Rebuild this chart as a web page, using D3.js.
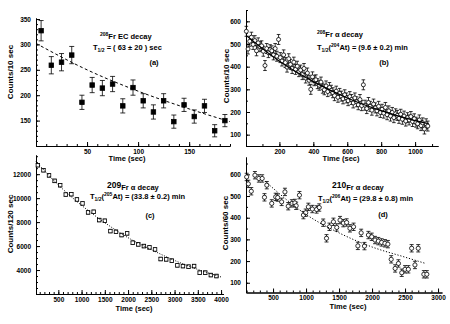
<!DOCTYPE html>
<html>
<head>
<meta charset="utf-8">
<script src="https://cdn.jsdelivr.net/npm/d3@7"></script>
<style>
  body { margin: 0; background: #fff; }
  svg { display: block; font-family: "Liberation Sans", Arial, sans-serif; font-weight: bold; }
</style>
</head>
<body>
<svg id="chart" width="450" height="324"></svg>
<script>
// (a) 208Fr EC decay, counts per 10 s
const aTime = [5, 15, 25, 35, 45, 55, 65, 75, 85, 95, 105, 115, 125, 135, 145, 155, 165, 175, 185];
const aCounts = [327, 259, 265, 279, 186, 220, 214, 222, 179, 215, 189, 167, 189, 148, 181, 158, 179, 130, 150];
const aErr = [20, 17, 17, 17, 14, 15, 15, 15, 14, 15, 14, 14, 14, 13, 13, 13, 13, 12, 12];
const aFitTime = [0, 50, 100, 150, 190];
const aFitCounts = [302, 250, 208, 173, 148];

// (b) 208Fr alpha decay, counts per 10 s
const bTime = [5, 15, 25, 35, 45, 55, 65, 75, 85, 95, 105, 115, 125, 135, 145, 155, 165, 175, 185, 195,
  205, 215, 225, 235, 245, 255, 265, 275, 285, 295, 305, 315, 325, 335, 345, 355, 365, 375, 385, 395,
  405, 415, 425, 435, 445, 455, 465, 475, 485, 495, 505, 515, 525, 535, 545, 555, 565, 575, 585, 595,
  605, 615, 625, 635, 645, 655, 665, 675, 685, 695, 705, 715, 725, 735, 745, 755, 765, 775, 785, 795,
  805, 815, 825, 835, 845, 855, 865, 875, 885, 895, 905, 915, 925, 935, 945, 955, 965, 975, 985, 995,
  1005, 1015, 1025, 1035, 1045, 1055, 1065, 1075];
const bCounts = [556, 478, 512, 530, 498, 515, 470, 505, 488, 492,
  468, 405, 480, 462, 475, 470, 452, 480, 446, 520,
  440, 425, 452, 418, 398, 435, 410, 392, 420, 388,
  402, 378, 385, 365, 392, 350, 372, 340, 300, 355,
  338, 342, 325, 318, 332, 305, 298, 315, 290, 308,
  296, 285, 272, 292, 265, 282, 270, 258, 276, 262,
  250, 268, 255, 240, 262, 245, 232, 255, 228, 320,
  230, 215, 242, 225, 208, 235, 218, 205, 225, 198,
  212, 195, 220, 188, 205, 182, 198, 175, 192, 185,
  172, 190, 168, 182, 160, 175, 165, 180, 158, 170,
  155, 148, 165, 140, 152, 125, 148, 138];
const bErr = 22;
const bFitTime = [5, 200, 400, 600, 800, 1000, 1080];
const bFitCounts = [537, 424, 334, 262, 206, 162, 148];

// (c) 209Fr alpha decay, counts per 120 s
const cTime = [60, 180, 300, 420, 540, 660, 780, 900, 1020, 1140, 1260, 1380, 1500, 1620, 1740, 1860, 1980,
  2100, 2220, 2340, 2460, 2580, 2700, 2820, 2940, 3060, 3180, 3300, 3420, 3540, 3660, 3780, 3900];
const cCounts = [12750, 12330, 11900, 11440, 11080, 10300, 10330, 9890, 9560, 8810, 8860, 8170, 8110, 7250, 7190,
  6920, 7060, 6280, 6140, 6000, 5890, 5720, 4920, 4890, 4780, 4390, 4330, 4280, 4330, 3780, 3780, 3580, 3500];
const cErr = 140;
const cFitTime = [20, 500, 1000, 1500, 2000, 2500, 3000, 3500, 4000];
const cFitCounts = [13050, 11100, 9400, 7950, 6700, 5700, 4800, 4050, 3420];

// (d) 210Fr alpha decay, counts per 60 s
const dTime = [100, 125, 170, 225, 285, 335, 370, 405, 480, 540, 570, 630, 680, 730, 785, 830, 850, 900, 960, 995,
  1035, 1095, 1160, 1200, 1260, 1310, 1355, 1415, 1465, 1515, 1565, 1615, 1665, 1720, 1785, 1835, 1885, 1945, 1995, 2045,
  2095, 2145, 2195, 2240, 2290, 2350, 2400, 2450, 2500, 2550, 2600, 2650, 2700, 2785, 2830];
const dCounts = [588, 556, 522, 596, 581, 581, 494, 550, 466, 496, 493, 473, 519, 453, 466, 468, 455, 504, 412, 423,
  450, 440, 438, 447, 377, 305, 358, 381, 355, 389, 375, 378, 351, 358, 270, 330, 269, 320, 312, 297,
  292, 286, 282, 278, 208, 166, 189, 146, 162, 162, 259, 182, 259, 139, 139];
const dErr = 17;
const dFitTime = [380, 1000, 1500, 2000, 2500, 2800];
const dFitCounts = [568, 415, 330, 265, 218, 190];

const svg = d3.select("#chart");
const FONT = "Liberation Sans, Arial, sans-serif";

function styleAxis(sel) {
  sel.attr("font-family", FONT).attr("font-size", 6.5).attr("font-weight", "bold");
  sel.selectAll("path, line").attr("stroke", "#000").attr("stroke-width", 1);
}

function drawPanel(p) {
  const x = d3.scaleLinear().domain(p.xDomain).range(p.xRange);
  const y = d3.scaleLinear().domain(p.yDomain).range(p.yRange);
  const g = svg.append("g");
  const bottom = p.yRange[0];
  const left = p.xRange[0];

  // axes: inward ticks, minor + major
  g.append("g").attr("transform", `translate(0,${bottom})`)
    .call(d3.axisBottom(x).tickValues(p.xMinor).tickSize(-2).tickSizeOuter(0).tickFormat(""))
    .call(styleAxis);
  g.append("g").attr("transform", `translate(0,${bottom})`)
    .call(d3.axisBottom(x).tickValues(p.xMajor).tickSize(-4).tickSizeOuter(0).tickPadding(3).tickFormat(d3.format("d")))
    .call(styleAxis);
  g.append("g").attr("transform", `translate(${left},0)`)
    .call(d3.axisLeft(y).tickValues(p.yMinor).tickSize(-2).tickSizeOuter(0).tickFormat(""))
    .call(styleAxis);
  g.append("g").attr("transform", `translate(${left},0)`)
    .call(d3.axisLeft(y).tickValues(p.yMajor).tickSize(-4).tickSizeOuter(0).tickPadding(5).tickFormat(d3.format("d")))
    .call(styleAxis);

  const pts = p.time.map((t, i) => ({ t: t, c: p.counts[i], e: Array.isArray(p.err) ? p.err[i] : p.err }));

  // error bars
  const eb = g.append("g").attr("stroke", "#000").attr("stroke-width", 0.8);
  pts.forEach(d => {
    const x0 = x(d.t), y1 = y(d.c - d.e), y2 = y(d.c + d.e);
    eb.append("line").attr("x1", x0).attr("x2", x0).attr("y1", y1).attr("y2", y2);
    eb.append("line").attr("x1", x0 - p.cap).attr("x2", x0 + p.cap).attr("y1", y1).attr("y2", y1);
    eb.append("line").attr("x1", x0 - p.cap).attr("x2", x0 + p.cap).attr("y1", y2).attr("y2", y2);
  });

  // markers
  const s = p.markerSize;
  if (p.marker === "circle") {
    g.append("g").selectAll("circle").data(pts).join("circle")
      .attr("cx", d => x(d.t)).attr("cy", d => y(d.c)).attr("r", s / 2)
      .attr("fill", "#fff").attr("stroke", "#000").attr("stroke-width", 0.8);
  } else {
    g.append("g").selectAll("rect").data(pts).join("rect")
      .attr("x", d => x(d.t) - s / 2).attr("y", d => y(d.c) - s / 2)
      .attr("width", s).attr("height", s)
      .attr("fill", p.marker === "filledSquare" ? "#000" : "#fff")
      .attr("stroke", "#000").attr("stroke-width", 0.8);
  }

  // fit curve
  const line = d3.line().x(d => x(d[0])).y(d => y(d[1])).curve(d3.curveMonotoneX);
  g.append("path")
    .attr("d", line(p.fitT.map((t, i) => [t, p.fitC[i]])))
    .attr("fill", "none").attr("stroke", "#000")
    .attr("stroke-width", p.fitWidth)
    .attr("stroke-dasharray", p.fitDash);

  // axis titles
  g.append("text")
    .attr("transform", `translate(${p.yLabelX},${p.yLabelY}) rotate(-90)`)
    .attr("text-anchor", "middle").attr("font-size", 8).text(p.yLabel);
  g.append("text")
    .attr("x", p.xLabelX).attr("y", p.xLabelY)
    .attr("text-anchor", "middle").attr("font-size", 7.5).text("Time (sec)");
}

function rich(x, y, parts, anchor) {
  const t = svg.append("text").attr("x", x).attr("y", y)
    .attr("text-anchor", anchor || "start");
  parts.forEach(([s, fs, dy]) => t.append("tspan").attr("font-size", fs).attr("dy", dy || 0).text(s));
}

drawPanel({
  time: aTime, counts: aCounts, err: aErr, fitT: aFitTime, fitC: aFitCounts,
  xDomain: [0, 190], xRange: [36, 230], yDomain: [100, 352], yRange: [146, 18],
  xMajor: [50, 100, 150], xMinor: d3.range(10, 191, 10),
  yMajor: [150, 200, 250, 300, 350], yMinor: d3.range(100, 351, 10),
  marker: "filledSquare", markerSize: 4.5, cap: 2.5, fitDash: "3,2.5", fitWidth: 1,
  yLabel: "Counts/10 sec", yLabelX: 13, yLabelY: 72, xLabelX: 127, xLabelY: 161
});

drawPanel({
  time: bTime, counts: bCounts, err: bErr, fitT: bFitTime, fitC: bFitCounts,
  xDomain: [3, 1135], xRange: [246, 438], yDomain: [50, 650], yRange: [146, 10],
  xMajor: [200, 400, 600, 800, 1000], xMinor: d3.range(100, 1101, 100),
  yMajor: [100, 200, 300, 400, 500, 600], yMinor: d3.range(50, 651, 50),
  marker: "circle", markerSize: 4, cap: 1.8, fitDash: null, fitWidth: 1.2,
  yLabel: "Counts/10 sec", yLabelX: 229, yLabelY: 76, xLabelX: 341, xLabelY: 161
});

drawPanel({
  time: cTime, counts: cCounts, err: cErr, fitT: cFitTime, fitC: cFitCounts,
  xDomain: [20, 4050], xRange: [36, 223.4], yDomain: [2000, 13600], yRange: [294, 155],
  xMajor: [500, 1000, 1500, 2000, 2500, 3000, 3500, 4000], xMinor: d3.range(100, 4001, 100),
  yMajor: [4000, 6000, 8000, 10000, 12000], yMinor: d3.range(2000, 13501, 500),
  marker: "openSquare", markerSize: 3.5, cap: 2, fitDash: "1,1.5", fitWidth: 1,
  yLabel: "Counts/120 sec", yLabelX: 12.5, yLabelY: 224, xLabelX: 134, xLabelY: 311
});

drawPanel({
  time: dTime, counts: dCounts, err: dErr, fitT: dFitTime, fitC: dFitCounts,
  xDomain: [90, 3060], xRange: [246, 442], yDomain: [55, 680], yRange: [292.5, 157],
  xMajor: [500, 1000, 1500, 2000, 2500, 3000], xMinor: d3.range(100, 3001, 100),
  yMajor: [100, 200, 300, 400, 500, 600], yMinor: d3.range(100, 651, 50),
  marker: "circle", markerSize: 4.2, cap: 2, fitDash: "1.2,1.8", fitWidth: 1,
  yLabel: "Counts/60 sec", yLabelX: 228, yLabelY: 223, xLabelX: 348, xLabelY: 309
});

// annotations
rich(100, 39, [["208", 5, -3], ["Fr EC decay", 7.5, 3]]);
rich(93, 49.5, [["T", 7.5, 0], ["1/2", 5, 2], [" = ( 63 \u00b1 20 ) sec", 7.5, -2]]);
rich(154, 65, [["(a)", 7.5, 0]], "middle");

rich(317, 37, [["208", 5, -3], ["Fr \u03b1 decay", 7.5, 3]]);
rich(317, 50, [["T", 7.5, 0], ["1/2", 5, 2], ["(", 7.5, -2], ["204", 5, -3], ["At) = (9.6  \u00b1  0.2) min", 7.5, 3]]);
rich(384, 65, [["(b)", 7.5, 0]], "middle");

rich(107, 187.5, [["209", 8.5, 0], ["Fr \u03b1 decay", 7.5, 2]]);
rich(90, 199, [["T", 7.5, 0], ["1/2", 5, 2], ["(", 7.5, -2], ["205", 5, -3], ["At) = (33.8  \u00b1  0.2) min", 7.5, 3]]);
rich(150, 218, [["(c)", 7.5, 0]], "middle");

rich(332, 188, [["210", 8.5, 0], ["Fr \u03b1 decay", 7.5, 2]]);
rich(318, 201, [["T", 7.5, 0], ["1/2", 5, 2], ["(", 7.5, -2], ["206", 5, -3], ["At) = (29.8  \u00b1  0.8) min", 7.5, 3]]);
rich(383, 216.5, [["(d)", 7.5, 0]], "middle");
</script>
</body>
</html>
